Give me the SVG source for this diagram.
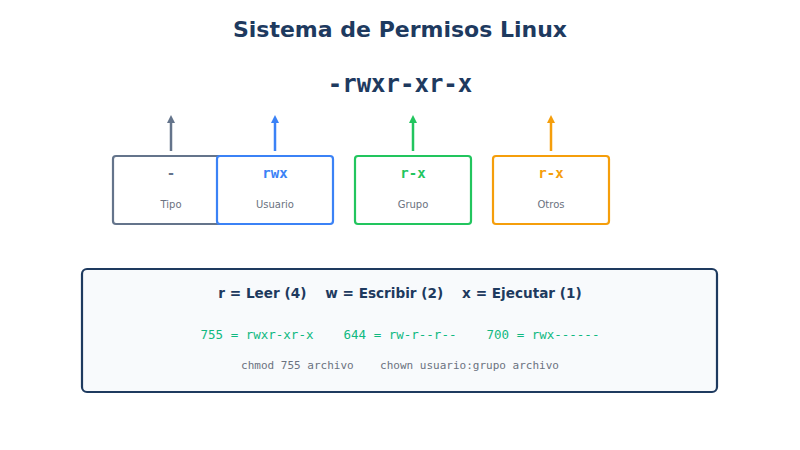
<svg xmlns="http://www.w3.org/2000/svg" width="800" height="450" viewBox="0 0 800 450">
<defs>
<style>
.t{font-family:"DejaVu Sans",sans-serif;}
.m{font-family:"DejaVu Sans Mono",monospace;}
.box{fill:#ffffff;stroke-width:2.2;}
.lbl{font-size:14px;font-weight:bold;text-anchor:middle;}
.sub{font-size:10px;fill:#6b7280;text-anchor:middle;}
</style>
<marker id="ag" markerWidth="8" markerHeight="8" refX="4" refY="4" orient="auto" markerUnits="userSpaceOnUse" viewBox="0 0 8 8"><path d="M0,0 L8,4 L0,8 Z" fill="#64748b"/></marker>
<marker id="ab" markerWidth="8" markerHeight="8" refX="4" refY="4" orient="auto" markerUnits="userSpaceOnUse" viewBox="0 0 8 8"><path d="M0,0 L8,4 L0,8 Z" fill="#3b82f6"/></marker>
<marker id="agr" markerWidth="8" markerHeight="8" refX="4" refY="4" orient="auto" markerUnits="userSpaceOnUse" viewBox="0 0 8 8"><path d="M0,0 L8,4 L0,8 Z" fill="#22c55e"/></marker>
<marker id="ao" markerWidth="8" markerHeight="8" refX="4" refY="4" orient="auto" markerUnits="userSpaceOnUse" viewBox="0 0 8 8"><path d="M0,0 L8,4 L0,8 Z" fill="#f59e0b"/></marker>
</defs>
<rect width="800" height="450" fill="#ffffff"/>
<text class="t" x="400" y="37" font-size="22" font-weight="bold" fill="#1e3a5f" text-anchor="middle">Sistema de Permisos Linux</text>
<text class="m" x="400" y="92" font-size="24" font-weight="bold" fill="#1e3a5f" text-anchor="middle">-rwxr-xr-x</text>
<g id="connectors" stroke-width="2.5">
<line x1="171" y1="151" x2="171" y2="119" stroke="#64748b" marker-end="url(#ag)"/>
<line x1="275" y1="151" x2="275" y2="119" stroke="#3b82f6" marker-end="url(#ab)"/>
<line x1="413" y1="151" x2="413" y2="119" stroke="#22c55e" marker-end="url(#agr)"/>
<line x1="551" y1="151" x2="551" y2="119" stroke="#f59e0b" marker-end="url(#ao)"/>
</g>
<g id="tipo">
<rect class="box" x="113" y="156" width="116" height="68" rx="3" stroke="#64748b"/>
<text class="m lbl" x="171" y="178" fill="#64748b">-</text>
<text class="t sub" x="171" y="208">Tipo</text>
</g>
<g id="usuario">
<rect class="box" x="217" y="156" width="116" height="68" rx="3" stroke="#3b82f6"/>
<text class="m lbl" x="275" y="178" fill="#3b82f6">rwx</text>
<text class="t sub" x="275" y="208">Usuario</text>
</g>
<g id="grupo">
<rect class="box" x="355" y="156" width="116" height="68" rx="3" stroke="#22c55e"/>
<text class="m lbl" x="413" y="178" fill="#22c55e">r-x</text>
<text class="t sub" x="413" y="208">Grupo</text>
</g>
<g id="otros">
<rect class="box" x="493" y="156" width="116" height="68" rx="3" stroke="#f59e0b"/>
<text class="m lbl" x="551" y="178" fill="#f59e0b">r-x</text>
<text class="t sub" x="551" y="208">Otros</text>
</g>
<g id="leyenda">
<rect x="82" y="269" width="635" height="123" rx="5" fill="#f8fafc" stroke="#1e3a5f" stroke-width="2.2"/>
<text class="t" x="400" y="298" font-size="13.6" font-weight="bold" fill="#1e3a5f" text-anchor="middle" xml:space="preserve">r = Leer (4)    w = Escribir (2)    x = Ejecutar (1)</text>
<text class="m" x="400" y="339" font-size="12.5" fill="#10b981" text-anchor="middle" xml:space="preserve">755 = rwxr-xr-x    644 = rw-r--r--    700 = rwx------</text>
<text class="m" x="400" y="369" font-size="11" fill="#6b7280" text-anchor="middle" xml:space="preserve">chmod 755 archivo    chown usuario:grupo archivo</text>
</g>
</svg>
